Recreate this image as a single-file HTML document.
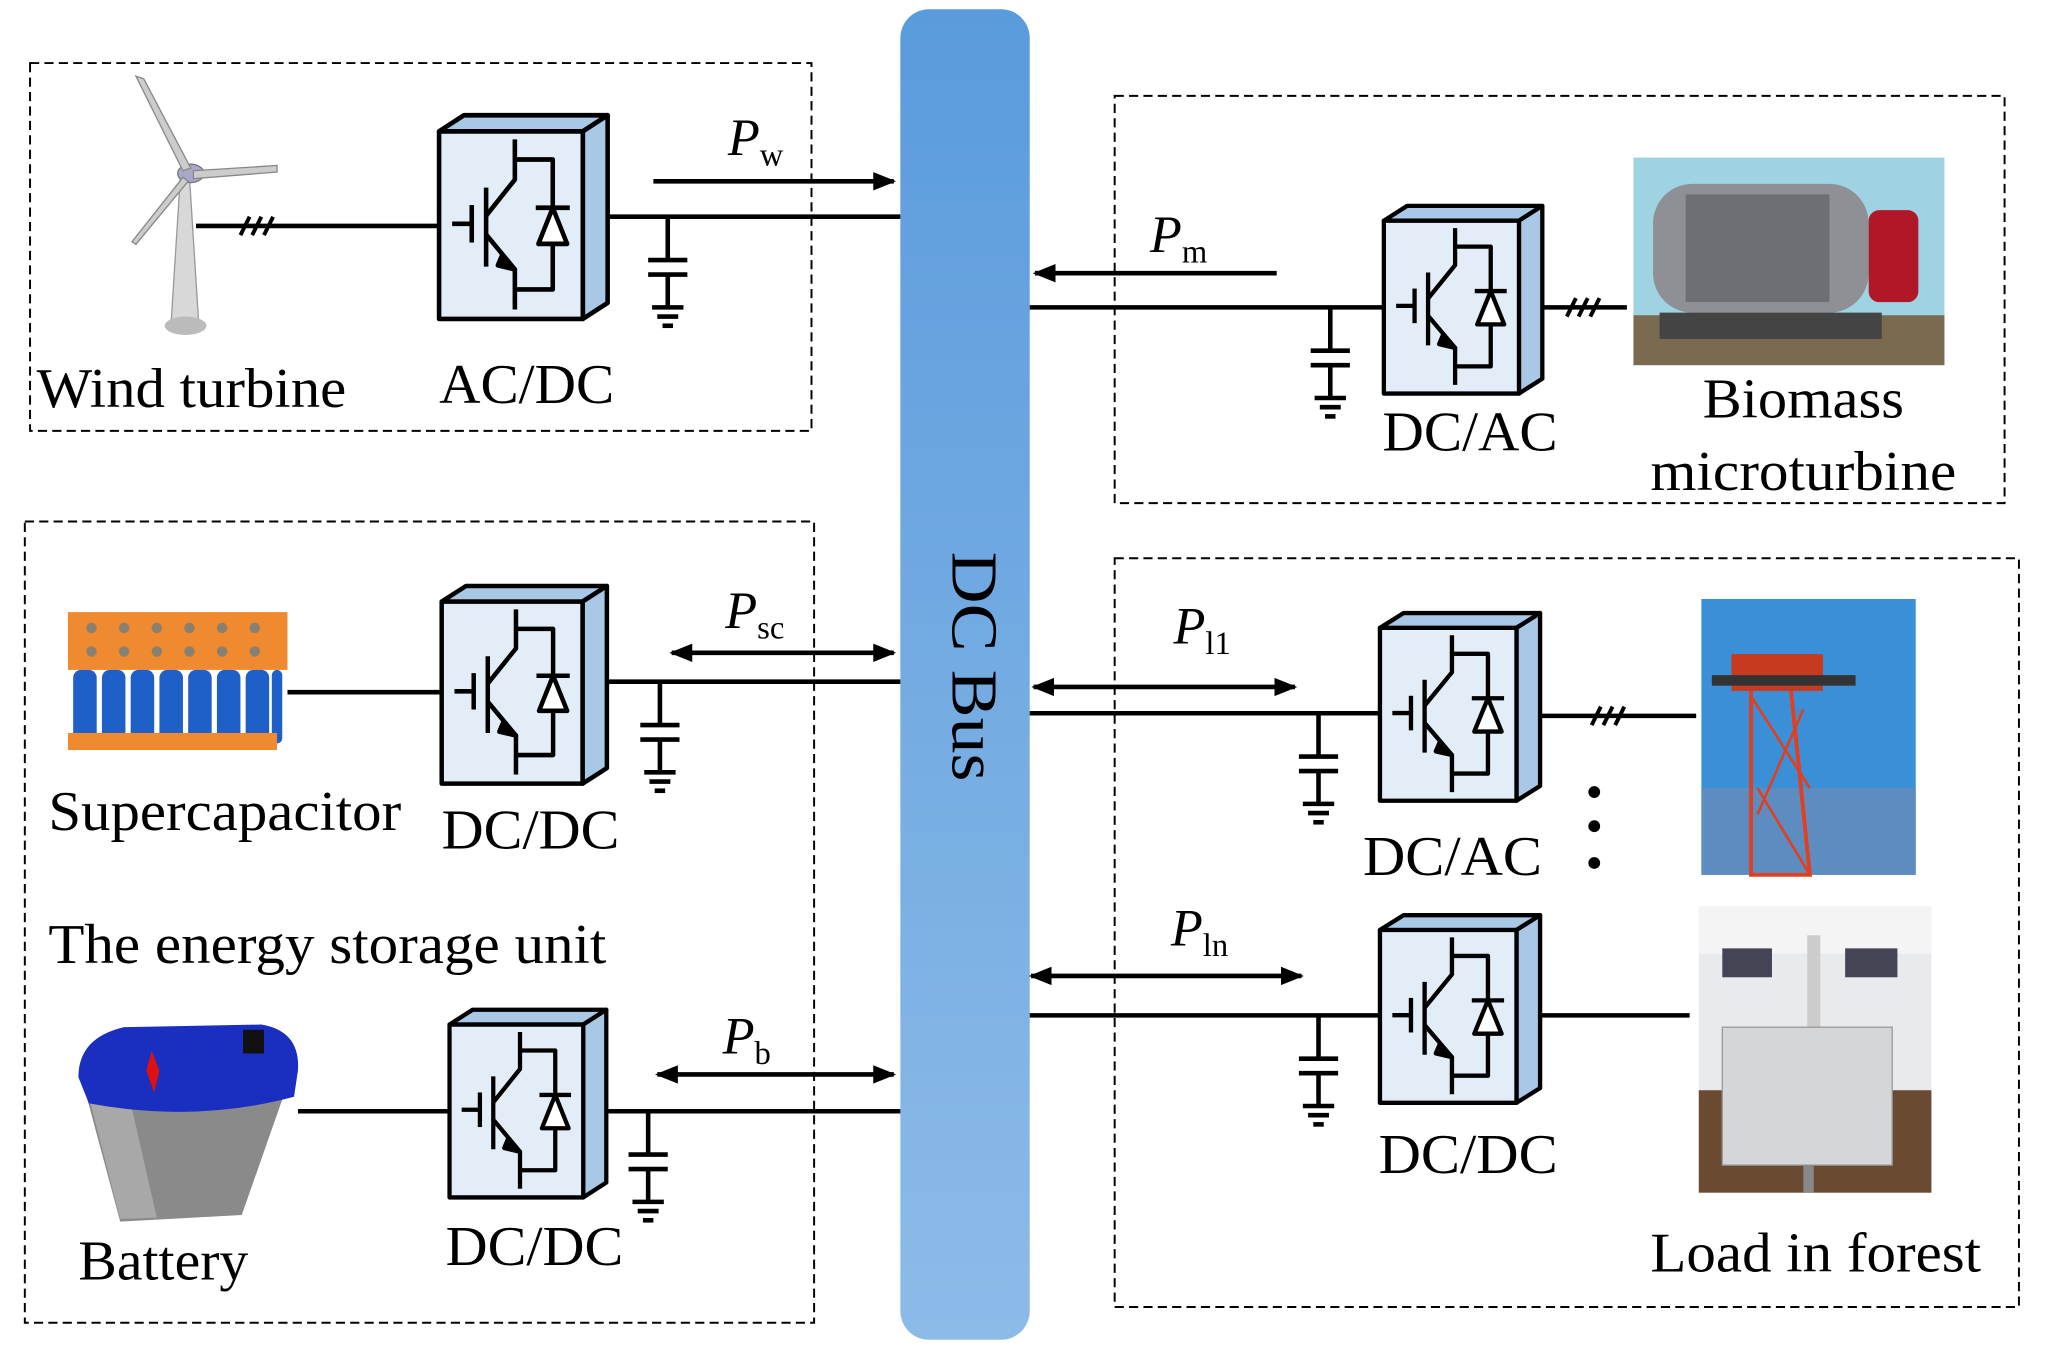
<!DOCTYPE html>
<html><head><meta charset="utf-8"><style>
html,body{margin:0;padding:0;background:#fff;width:2049px;height:1349px;overflow:hidden}
svg{display:block}
text{font-family:"Liberation Serif",serif;fill:#000}
</style></head><body>
<svg width="2049" height="1349" viewBox="0 0 1568 1027" preserveAspectRatio="none" xmlns="http://www.w3.org/2000/svg">
<defs>
<linearGradient id="bus" x1="0" y1="0" x2="0" y2="1"><stop offset="0" stop-color="#5a9bdc"/><stop offset="1" stop-color="#8dbbe8"/></linearGradient>
<marker id="ah" viewBox="0 0 10 10" refX="9" refY="5" markerWidth="5" markerHeight="5" orient="auto-start-reverse"><path d="M0,1 L10,5 L0,9 Z" fill="#000"/></marker>
<g id="conv" stroke="#000" stroke-width="3.5" fill="none" stroke-linejoin="round">
<path d="M0,0 L19,-12 L129,-12 L110,0 Z" fill="#a9c8e6"/>
<path d="M110,0 L129,-12 L129,128 L110,140 Z" fill="#a9c8e6"/>
<rect x="0" y="0" width="110" height="140" fill="#e3edf7"/>
<line x1="10" y1="69" x2="25" y2="69"/>
<line x1="25" y1="55" x2="25" y2="83"/>
<line x1="36" y1="42" x2="36" y2="101"/>
<polyline points="36,63 58,36 58,6"/>
<polyline points="58,21 87,21 87,118 58,118"/>
<polyline points="36,77 58,103 58,133"/>
<path d="M48,93 L58,103 L45,100 Z" fill="#000"/>
<line x1="74" y1="57" x2="100" y2="57"/>
<path d="M87,57 L76,84 L98,84 Z" fill="#fff"/>
</g>
<g id="cap" stroke="#000" stroke-width="3.5" fill="none">
<line x1="0" y1="0" x2="0" y2="33"/>
<line x1="-15" y1="33" x2="15" y2="33"/>
<line x1="-15" y1="44" x2="15" y2="44"/>
<line x1="0" y1="44" x2="0" y2="69"/>
<line x1="-12" y1="69" x2="12" y2="69"/>
<line x1="-8" y1="76" x2="8" y2="76"/>
<line x1="-4" y1="83" x2="4" y2="83"/>
</g>
<g id="sl" stroke="#000" stroke-width="3"><line x1="-12" y1="7" x2="-5" y2="-7"/><line x1="-3" y1="7" x2="4" y2="-7"/><line x1="6" y1="7" x2="13" y2="-7"/></g>
</defs>

<g fill="none" stroke="#000" stroke-width="1.5" stroke-dasharray="7,4">
<rect x="23" y="48" width="598" height="280"/>
<rect x="853" y="73" width="681" height="310"/>
<rect x="19" y="397" width="604" height="610"/>
<rect x="853" y="425" width="692" height="570"/>
</g>

<rect x="689" y="7" width="99" height="1013" rx="22" fill="url(#bus)"/>
<text transform="translate(729,420) rotate(90)" font-size="50" textLength="175" lengthAdjust="spacingAndGlyphs">DC Bus</text>

<g stroke="#000" stroke-width="3.5" fill="none">
<line x1="150" y1="172" x2="336" y2="172"/>
<line x1="466" y1="165" x2="689" y2="165"/>
<line x1="500" y1="138" x2="684" y2="138" marker-end="url(#ah)"/>
<line x1="788" y1="234" x2="1059" y2="234"/>
<line x1="977" y1="208" x2="792" y2="208" marker-end="url(#ah)"/>
<line x1="1180" y1="234" x2="1245" y2="234"/>
<line x1="220" y1="527" x2="338" y2="527"/>
<line x1="464" y1="519" x2="689" y2="519"/>
<line x1="514" y1="497" x2="684" y2="497" marker-start="url(#ah)" marker-end="url(#ah)"/>
<line x1="228" y1="846" x2="344" y2="846"/>
<line x1="464" y1="846" x2="689" y2="846"/>
<line x1="503" y1="818" x2="684" y2="818" marker-start="url(#ah)" marker-end="url(#ah)"/>
<line x1="788" y1="543" x2="1056" y2="543"/>
<line x1="791" y1="523" x2="991" y2="523" marker-start="url(#ah)" marker-end="url(#ah)"/>
<line x1="1180" y1="545" x2="1298" y2="545"/>
<line x1="788" y1="773" x2="1056" y2="773"/>
<line x1="789" y1="743" x2="996" y2="743" marker-start="url(#ah)" marker-end="url(#ah)"/>
<line x1="1178" y1="773" x2="1293" y2="773"/>
</g>
<use href="#sl" x="196" y="172"/>
<use href="#sl" x="1211" y="234"/>
<use href="#sl" x="1230" y="545"/>
<circle cx="1220" cy="603" r="4.5"/><circle cx="1220" cy="629" r="4.5"/><circle cx="1220" cy="657" r="4.5"/>

<use href="#cap" x="511" y="165"/>
<use href="#cap" x="1018" y="234"/>
<use href="#cap" x="505" y="519"/>
<use href="#cap" x="496" y="846"/>
<use href="#cap" x="1009" y="543"/>
<use href="#cap" x="1009" y="773"/>

<use href="#conv" transform="translate(336,100) scale(1.0,1.02)"/>
<use href="#conv" transform="translate(1059,168) scale(0.94,0.94)"/>
<use href="#conv" transform="translate(338,458) scale(0.98,0.99)"/>
<use href="#conv" transform="translate(344,780) scale(0.93,0.94)"/>
<use href="#conv" transform="translate(1056,478) scale(0.95,0.94)"/>
<use href="#conv" transform="translate(1056,708) scale(0.95,0.94)"/>

<g>
<path d="M138,135 L145,135 L152,245 L131,245 Z" fill="#d8d8d8" stroke="#999"/>
<ellipse cx="142" cy="248" rx="16" ry="7" fill="#bbb"/>
<ellipse cx="146" cy="132" rx="10" ry="7" fill="#a8a8c8" stroke="#777"/>
<path d="M140,130 L104,58 L110,60 L146,128 Z" fill="#ccc" stroke="#888"/>
<path d="M148,130 L212,126 L212,131 L148,136 Z" fill="#ccc" stroke="#888"/>
<path d="M140,135 L101,184 L104,186 L144,138 Z" fill="#ccc" stroke="#888"/>
</g>

<g>
<rect x="52" y="466" width="168" height="44" fill="#f08a30"/>
<g fill="#1f5fc8">
<rect x="56" y="510" width="18" height="56" rx="6"/><rect x="78" y="510" width="18" height="56" rx="6"/><rect x="100" y="510" width="18" height="56" rx="6"/><rect x="122" y="510" width="18" height="56" rx="6"/><rect x="144" y="510" width="18" height="56" rx="6"/><rect x="166" y="510" width="18" height="56" rx="6"/><rect x="188" y="510" width="18" height="56" rx="6"/><rect x="208" y="510" width="8" height="56" rx="4"/>
</g>
<rect x="52" y="558" width="160" height="13" fill="#f08a30"/>
<g fill="#8a8070"><circle cx="70" cy="478" r="4"/><circle cx="95" cy="478" r="4"/><circle cx="120" cy="478" r="4"/><circle cx="145" cy="478" r="4"/><circle cx="170" cy="478" r="4"/><circle cx="195" cy="478" r="4"/><circle cx="70" cy="496" r="4"/><circle cx="95" cy="496" r="4"/><circle cx="120" cy="496" r="4"/><circle cx="145" cy="496" r="4"/><circle cx="170" cy="496" r="4"/><circle cx="195" cy="496" r="4"/></g>
</g>

<g>
<path d="M65,830 L92,930 L185,925 L222,820 Z" fill="#8a8a8a"/>
<path d="M68,835 L92,928 L120,927 L100,840 Z" fill="#a8a8a8"/>
<path d="M60,820 Q60,790 95,782 L200,780 Q230,785 228,815 L225,835 Q150,855 68,840 Z" fill="#1a2fc0"/>
<path d="M112,815 L116,800 L122,815 L118,832 Z" fill="#e01010"/>
<rect x="186" y="784" width="16" height="18" fill="#111"/>
</g>

<g>
<rect x="1250" y="120" width="238" height="158" fill="#9fd3e2"/>
<rect x="1250" y="240" width="238" height="38" fill="#7a6a50"/>
<rect x="1265" y="140" width="165" height="98" rx="30" fill="#8e9096"/>
<rect x="1290" y="148" width="110" height="82" fill="#6d6f74"/>
<rect x="1430" y="160" width="38" height="70" rx="8" fill="#b01828"/>
<rect x="1270" y="238" width="170" height="20" fill="#444"/>
</g>

<g>
<rect x="1302" y="456" width="164" height="210" fill="#3b8fd6"/>
<rect x="1302" y="600" width="164" height="66" fill="#5d8cc0"/>
<path d="M1340,520 L1370,520 L1385,666 L1340,666 Z" fill="none" stroke="#e04020" stroke-width="3"/>
<path d="M1340,530 L1385,600 M1380,540 L1345,620 M1345,600 L1385,666" stroke="#e04020" stroke-width="2"/>
<rect x="1325" y="498" width="70" height="28" fill="#c83a20"/>
<rect x="1310" y="514" width="110" height="8" fill="#333"/>
</g>

<g>
<rect x="1300" y="690" width="178" height="218" fill="#e8eaee"/>
<rect x="1300" y="830" width="178" height="78" fill="#6a4a30"/>
<rect x="1300" y="690" width="178" height="36" fill="#f4f4f4"/>
<rect x="1318" y="722" width="38" height="22" fill="#445"/>
<rect x="1412" y="722" width="40" height="22" fill="#445"/>
<rect x="1383" y="712" width="10" height="70" fill="#ccc"/>
<rect x="1318" y="782" width="130" height="105" fill="#d4d6d8" stroke="#999"/>
<rect x="1380" y="887" width="8" height="21" fill="#888"/>
</g>

<g font-size="43" lengthAdjust="spacingAndGlyphs">
<text x="28" y="310" textLength="237" lengthAdjust="spacingAndGlyphs">Wind turbine</text>
<text x="336" y="307" textLength="134" lengthAdjust="spacingAndGlyphs">AC/DC</text>
<text x="1058" y="343" textLength="134" lengthAdjust="spacingAndGlyphs">DC/AC</text>
<text x="1303" y="318" textLength="154" lengthAdjust="spacingAndGlyphs">Biomass</text>
<text x="1263" y="373" textLength="234" lengthAdjust="spacingAndGlyphs">microturbine</text>
<text x="37" y="632" textLength="270" lengthAdjust="spacingAndGlyphs">Supercapacitor</text>
<text x="338" y="646" textLength="136" lengthAdjust="spacingAndGlyphs">DC/DC</text>
<text x="37" y="733" textLength="427" lengthAdjust="spacingAndGlyphs">The energy storage unit</text>
<text x="1043" y="666" textLength="137" lengthAdjust="spacingAndGlyphs">DC/AC</text>
<text x="1055" y="893" textLength="137" lengthAdjust="spacingAndGlyphs">DC/DC</text>
<text x="60" y="974" textLength="130" lengthAdjust="spacingAndGlyphs">Battery</text>
<text x="341" y="963" textLength="136" lengthAdjust="spacingAndGlyphs">DC/DC</text>
<text x="1263" y="968" textLength="253" lengthAdjust="spacingAndGlyphs">Load in forest</text>
</g>
<g font-size="40" font-style="italic">
<text x="557" y="118">P<tspan font-size="25" font-style="normal" dy="8">w</tspan></text>
<text x="880" y="192">P<tspan font-size="25" font-style="normal" dy="8">m</tspan></text>
<text x="555" y="478">P<tspan font-size="25" font-style="normal" dy="8">sc</tspan></text>
<text x="898" y="490">P<tspan font-size="25" font-style="normal" dy="8">l1</tspan></text>
<text x="896" y="720">P<tspan font-size="25" font-style="normal" dy="8">ln</tspan></text>
<text x="553" y="802">P<tspan font-size="25" font-style="normal" dy="8">b</tspan></text>
</g>
</svg>
</body></html>
